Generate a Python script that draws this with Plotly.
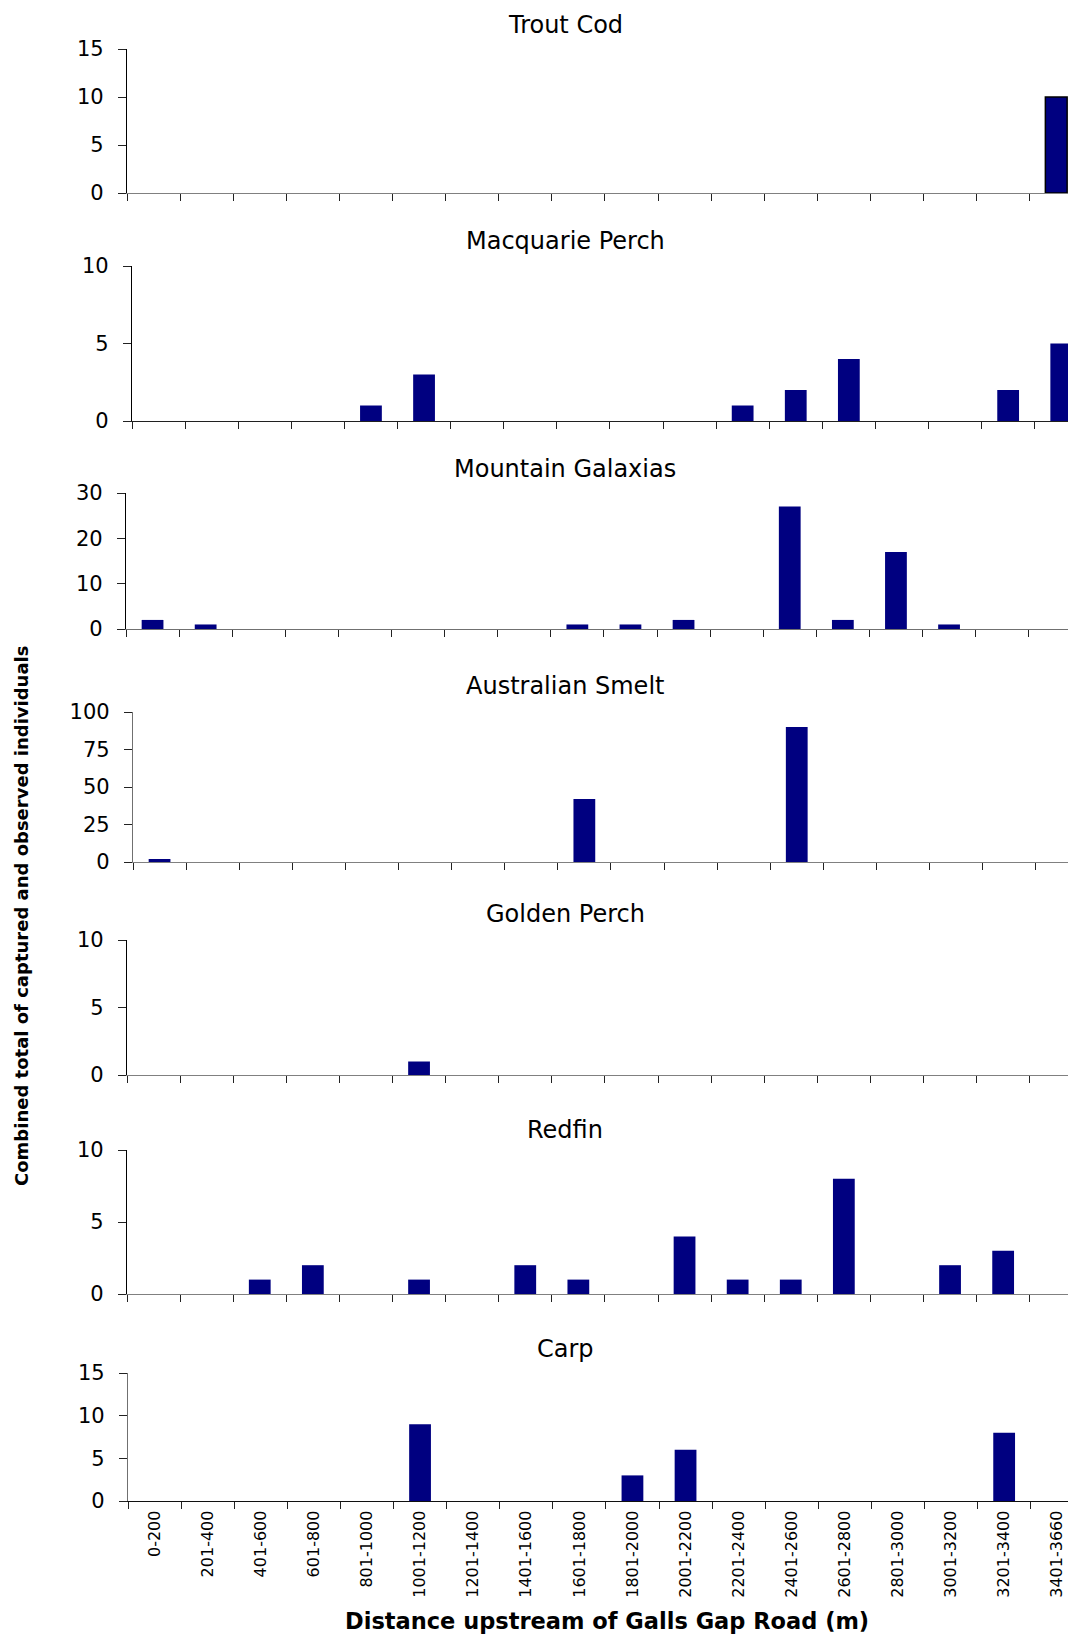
import plotly.graph_objects as go

categories = ["0-200", "201-400", "401-600", "601-800", "801-1000", "1001-1200",
              "1201-1400", "1401-1600", "1601-1800", "1801-2000", "2001-2200",
              "2201-2400", "2401-2600", "2601-2800", "2801-3000", "3001-3200",
              "3201-3400", "3401-3660"]

trout_cod = [0, 0, 0, 0, 0, 0, 0, 0, 0, 0, 0, 0, 0, 0, 0, 0, 0, 10]
macquarie_perch = [0, 0, 0, 0, 1, 3, 0, 0, 0, 0, 0, 1, 2, 4, 0, 0, 2, 5]
mountain_galaxias = [2, 1, 0, 0, 0, 0, 0, 0, 1, 1, 2, 0, 27, 2, 17, 1, 0, 0]
australian_smelt = [2, 0, 0, 0, 0, 0, 0, 0, 42, 0, 0, 0, 90, 0, 0, 0, 0, 0]
golden_perch = [0, 0, 0, 0, 0, 1, 0, 0, 0, 0, 0, 0, 0, 0, 0, 0, 0, 0]
redfin = [0, 0, 1, 2, 0, 1, 0, 2, 1, 0, 4, 1, 1, 8, 0, 2, 3, 0]
carp = [0, 0, 0, 0, 0, 9, 0, 0, 0, 3, 6, 0, 0, 0, 0, 0, 8, 0]

species = ["Trout Cod", "Macquarie Perch", "Mountain Galaxias", "Australian Smelt",
           "Golden Perch", "Redfin", "Carp"]
series = [trout_cod, macquarie_perch, mountain_galaxias, australian_smelt,
          golden_perch, redfin, carp]
y_max = [15, 10, 30, 100, 10, 10, 15]
y_step = [5, 5, 10, 25, 5, 5, 5]

# page is 1076x1635; the html body adds an 8px margin, so the figure is drawn
# from (8, 8) and sized to end exactly at the page's right/bottom edges
PAGE_W, PAGE_H, OFF = 1076, 1635, 8
FW, FH = PAGE_W - OFF, PAGE_H - OFF


def px_x(p):
    return (p - OFF) / FW


def px_y(p):
    return 1 - (p - OFF) / FH


# panel geometry in page pixels: (left, top, bottom, title_y)
panels = [(127, 49, 193, 25), (132, 266, 421, 241), (126, 493, 629, 469),
          (133, 712, 862, 686), (127, 940, 1075, 914), (127, 1150, 1294, 1130),
          (128, 1373, 1501, 1349)]
xline_col = ["#808080", "#202020", "#707070", "#808080", "#808080", "#808080", "#101010"]
yline_col = ["#000000", "#000000", "#000000", "#707070", "#000000", "#000000", "#707070"]
cat_w = 53.1
FONT = "DejaVu Sans"

fig = go.Figure()
layout = dict(width=FW, height=FH, margin=dict(l=0, r=0, t=0, b=0, autoexpand=False),
              paper_bgcolor="white", plot_bgcolor="white", showlegend=False,
              font=dict(family=FONT, color="black"), bargap=0.59, annotations=[])

for i, (name, vals) in enumerate(zip(species, series)):
    n = i + 1
    left, top, bottom, ty = panels[i]
    xa = "x" if n == 1 else f"x{n}"
    ya = "y" if n == 1 else f"y{n}"
    outline = [1.5 if (i == 0 and v > 0) else 0 for v in vals]
    fig.add_trace(go.Bar(x=categories, y=vals, xaxis=xa, yaxis=ya,
                         marker=dict(color="#000080",
                                     line=dict(color="black", width=outline)),
                         hoverinfo="x+y"))
    xkey = "xaxis" if n == 1 else f"xaxis{n}"
    ykey = "yaxis" if n == 1 else f"yaxis{n}"
    layout[xkey] = dict(
        domain=[px_x(left), 1.0], anchor=ya, type="category", automargin=False,
        categoryorder="array", categoryarray=categories,
        range=[-0.5, -0.5 + (PAGE_W - left) / cat_w],
        showline=True, linecolor=xline_col[i], linewidth=1.3,
        ticks="outside", tickson="boundaries", ticklen=7, tickcolor="#222",
        tickwidth=1, showgrid=False, zeroline=False,
        showticklabels=(n == 7), tickangle=-90, ticklabelstandoff=2,
        tickfont=dict(family=FONT, size=16, color="black"),
    )
    layout[ykey] = dict(
        domain=[px_y(bottom), px_y(top)], anchor=xa, automargin=False,
        range=[0, y_max[i]], tickmode="linear", tick0=0, dtick=y_step[i],
        showline=True, linecolor=yline_col[i], linewidth=1.2,
        ticks="outside", ticklen=8, tickcolor="#222", tickwidth=1,
        showgrid=False, zeroline=False, ticklabelstandoff=10,
        tickfont=dict(family=FONT, size=21, color="black"),
    )
    layout["annotations"].append(dict(
        text=name, x=px_x(565), y=px_y(ty), xref="paper", yref="paper",
        xanchor="center", yanchor="middle", showarrow=False,
        font=dict(family=FONT, size=24, color="black")))

layout["annotations"].append(dict(
    text="<b>Distance upstream of Galls Gap Road (m)</b>", x=px_x(607), y=px_y(1621),
    xref="paper", yref="paper", xanchor="center", yanchor="middle", showarrow=False,
    font=dict(family=FONT, size=22.5, color="black")))
layout["annotations"].append(dict(
    text="<b>Combined total of captured and observed individuals</b>", x=px_x(21),
    y=px_y(916), xref="paper", yref="paper", xanchor="center", yanchor="middle",
    textangle=-90, showarrow=False, font=dict(family=FONT, size=18, color="black")))

fig.update_layout(**layout)
fig.write_html("out.html")
